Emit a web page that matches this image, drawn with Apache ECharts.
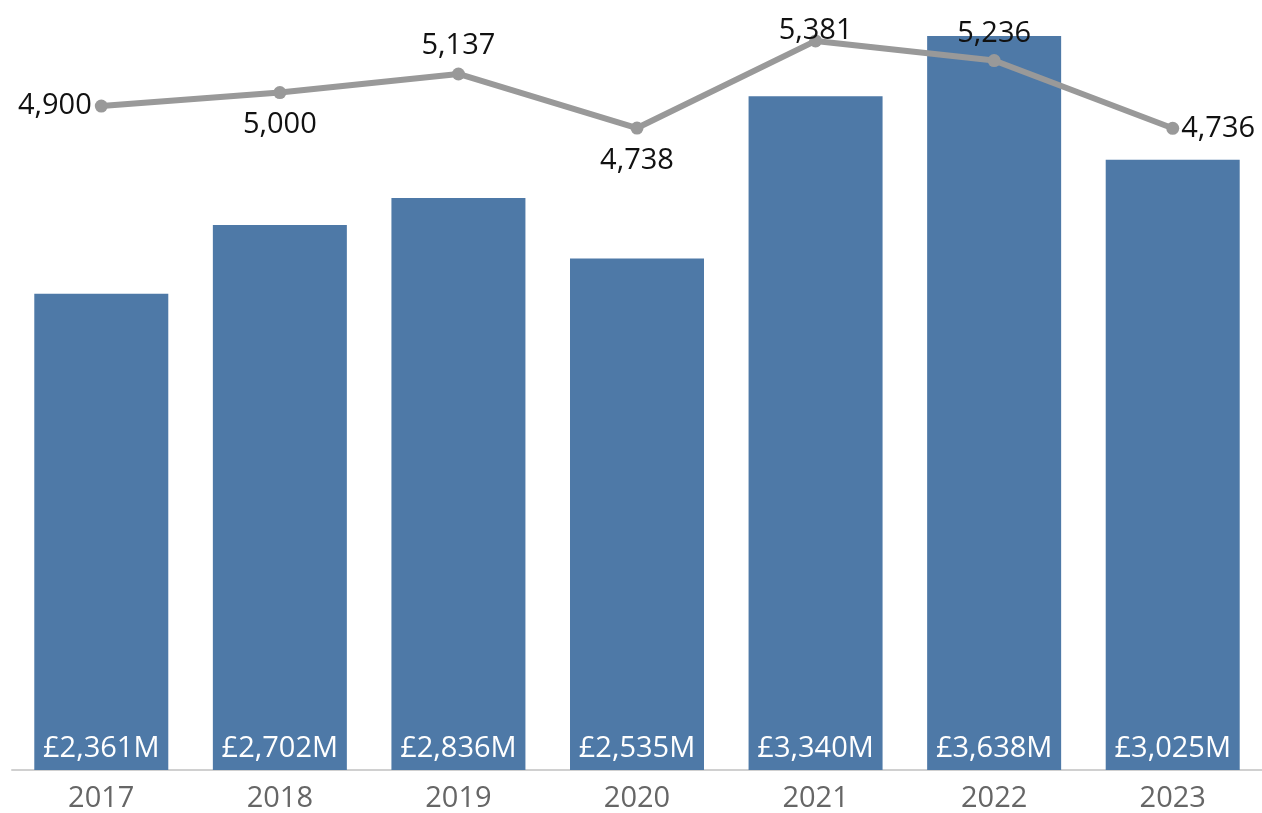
<!DOCTYPE html>
<html><head><meta charset="utf-8">
<script src="https://cdn.jsdelivr.net/npm/echarts@6/dist/echarts.min.js"></script>
<style>html,body{margin:0;padding:0;background:#fff}#c{width:1262px;height:813px}</style>
</head><body><div id="c"></div>
<script>
const years = ['2017','2018','2019','2020','2021','2022','2023'];
const revenue = [2361, 2702, 2836, 2535, 3340, 3638, 3025];
const counts = [4900, 5000, 5137, 4738, 5381, 5236, 4736];

const labelPos = ['left','bottom','top','bottom','top','top','right'];
const labelDist = [3, 11, 7, 12, -11, 6, 2];

const chart = echarts.init(document.getElementById('c'));
chart.setOption({
  animation: false,
  grid: {left: 12, right: 0, top: 0, bottom: 43},
  xAxis: {
    type: 'category', data: years,
    axisLine: {lineStyle: {color: '#d0d0d0', width: 2}},
    axisTick: {show: false},
    axisLabel: {color: '#666', fontSize: 29, fontFamily: 'Open Sans', margin: 14}
  },
  yAxis: [
    {type: 'value', min: 0, max: 3817, show: false, splitLine: {show: false}},
    {type: 'value', min: 0, max: 5683, show: false, splitLine: {show: false}}
  ],
  series: [
    {
      type: 'bar', data: revenue, barWidth: 134, yAxisIndex: 0,
      itemStyle: {color: '#4e79a7'},
      label: {show: true, position: 'insideBottom', distance: 7, color: '#fff',
        fontSize: 29, fontFamily: 'Open Sans',
        formatter: p => '£' + p.value.toLocaleString('en-US') + 'M'}
    },
    {
      type: 'line', yAxisIndex: 1,
      data: counts.map((v, i) => ({value: v, label: {position: labelPos[i], distance: labelDist[i]}})),
      lineStyle: {color: '#999', width: 6},
      itemStyle: {color: '#999'},
      symbol: 'circle', symbolSize: 13,
      label: {show: true, color: '#111', fontSize: 29, fontFamily: 'Open Sans',
        formatter: p => p.value.toLocaleString('en-US')}
    }
  ]
});
</script></body></html>
